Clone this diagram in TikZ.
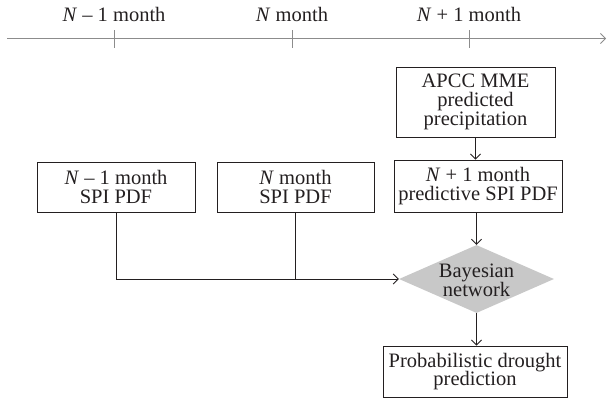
\documentclass[tikz,border=0pt]{standalone}
\usepackage{fontspec}
\setmainfont{Liberation Serif}
\usetikzlibrary{shapes.geometric, arrows.meta, positioning, calc}
\definecolor{ink}{HTML}{231F20}
\definecolor{axisgray}{HTML}{8C8C8C}
\definecolor{netgray}{HTML}{C8C8C8}

\begin{document}
\begin{tikzpicture}[
        x=1pt, y=-1pt, >={Straight Barb[length=5pt,width=10pt]},
        font=\fontsize{20.5}{18.7}\selectfont, text=ink,
        box/.style={draw=ink, line width=0.9pt, rectangle, minimum width=158pt, minimum height=50pt, align=center, inner sep=0pt},
        net/.style={diamond, fill=netgray, minimum width=155pt, minimum height=68pt, inner sep=0pt},
        monthlabel/.style={anchor=base, inner sep=0pt},
        link/.style={draw=ink, line width=0.9pt}
    ]
    \useasboundingbox (0,0) rectangle (609,400);

    % time axis
    \coordinate (axstart) at (7,38.5);
    \coordinate (axend) at (606,38.5);
    \draw[axisgray, line width=0.8pt, ->] (axstart) -- (axend);
    \foreach \x/\name/\txt in {114/prev/{\textit{N} – 1 month}, 292/curr/{\textit{N} month}, 469/next/{\textit{N} + 1 month}} {
        \node[monthlabel] (\name) at (\x,21.5) {\txt};
        \draw[axisgray, line width=0.8pt] (\x,30) -- (\x,48);
    }

    \node[box] (spiprev) at (116,187) {\textit{N} – 1 month\\SPI PDF};
    \node[box, minimum width=157pt] (spicurr) at (295.5,187) {\textit{N} month\\SPI PDF};
    \node[box, minimum width=168pt, minimum height=52pt] (spinext) at (478,186) {\textit{N} + 1 month\\predictive SPI PDF};
    \node[box, minimum width=159pt, minimum height=70pt] (apcc) at (475.5,102) {APCC MME\\predicted\\precipitation};
    \node[net] (bayes) at (476.5,279) {};
    \node[align=center, inner sep=0pt] (bayestext) at (476.5,280) {Bayesian\\network};
    \node[box, minimum width=184pt, minimum height=51pt] (drought) at (475,371.5) {Probabilistic drought\\prediction};

    \draw[link, ->] (apcc.south) -- (apcc.south |- spinext.north);
    \draw[link, ->] (spinext.south -| bayes.north) -- (bayes.north);
    \draw[link, ->] (spiprev.south) |- (bayes.west);
    \draw[link] (spicurr.south) -- (spicurr.south |- bayes.west);
    \draw[link, ->] (bayes.south) -- (bayes.south |- drought.north);
\end{tikzpicture}
\end{document}
